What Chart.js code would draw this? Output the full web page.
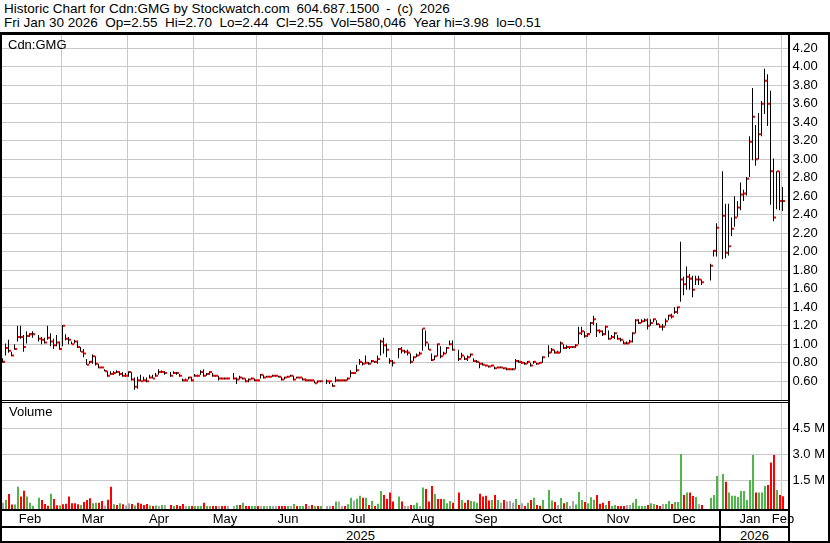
<!DOCTYPE html>
<html><head><meta charset="utf-8">
<script src="https://cdn.jsdelivr.net/npm/chart.js@4.4.1/dist/chart.umd.min.js"></script>
<style>
html,body{margin:0;padding:0;background:#fff;}
#wrap{position:relative;width:830px;height:543px;overflow:hidden;background:#fff;font-family:"Liberation Sans",Arial,sans-serif;color:#000;}
.t{position:absolute;font-size:13px;white-space:pre;line-height:15px;}
.h{font-size:13.5px;}
.ws{word-spacing:3px;}
.r{position:absolute;background:#000;}
canvas{position:absolute;left:0;}
</style></head><body><div id="wrap">
<div class="t h" style="left:4px;top:1px">Historic Chart for Cdn:GMG by Stockwatch.com<span class="ws"> 604.687.1500 - (c) 2026</span></div>
<div class="t h" style="left:4px;top:15px">Fri Jan 30 2026  Op=2.55  Hi=2.70  Lo=2.44  Cl=2.55  Vol=580,046  Year hi=3.98  lo=0.51</div>
<canvas id="cp" width="830" height="365" style="top:35px"></canvas>
<canvas id="cv" width="830" height="125" style="top:403px"></canvas>
<div class="t" style="left:8px;top:37px">Cdn:GMG</div>
<div class="t" style="left:9px;top:404px">Volume</div>
<div class="t" style="left:2px;width:717px;top:528px;text-align:center">2025</div>
<div class="t" style="left:721px;width:67px;top:528px;text-align:center">2026</div>
<div class="r" style="left:0;top:32px;width:830px;height:3px"></div>
<div class="r" style="left:0;top:32px;width:2px;height:511px"></div>
<div class="r" style="left:788px;top:32px;width:2px;height:511px"></div>
<div class="r" style="left:828px;top:32px;width:2px;height:511px"></div>
<div class="r" style="left:0;top:400px;width:790px;height:1px"></div>
<div class="r" style="left:0;top:402px;width:790px;height:1px"></div>
<div class="r" style="left:0;top:509px;width:790px;height:2px"></div>
<div class="r" style="left:0;top:526px;width:790px;height:2px"></div>
<div class="r" style="left:0;top:541px;width:830px;height:2px"></div>
<div class="r" style="left:719px;top:511px;width:2px;height:30px"></div>
</div>
<script>
// ---- categories: weekday slots from Jan 31 2025 to Feb 2 2026 ----
const firstDay = '2025-01-31';
const lastDay = '2026-02-02';
const monthNames = ['Feb','Mar','Apr','May','Jun','Jul','Aug','Sep','Oct','Nov','Dec','Jan','Feb'];
const priceTicks = [0.6,0.8,1.0,1.2,1.4,1.6,1.8,2.0,2.2,2.4,2.6,2.8,3.0,3.2,3.4,3.6,3.8,4.0,4.2];
const volTicks = [1500000, 3000000, 4500000];

// ---- price bars (per weekday slot, null = no trading) ----
const hi = [
.85,1.01,1.05,.92,1.00,1.20,1.20,1.10,1.14,1.12,
1.14,null,1.10,1.08,1.07,1.20,1.12,1.06,1.10,1.03,
1.21,1.11,1.08,1.03,1.05,1.04,.97,.95,.84,.82,
.89,.87,.79,.76,.73,.71,.71,.71,.72,.71,
.70,.69,.71,.70,.64,.65,.67,.65,.64,.67,
.67,.69,.73,.72,.71,null,.70,.71,.70,.68,
.63,.63,.65,.65,.68,.67,.72,.73,.69,.71,
.69,.67,.66,.64,.64,.64,null,.69,.64,.66,
.64,.63,.63,.64,.63,.62,.68,.67,.66,.66,
.67,.67,.66,.65,.65,.66,.67,.66,.65,.65,
.64,.63,.62,.62,.61,.61,.61,null,.62,.61,
.58,.65,.62,.62,.62,.64,.72,.70,.78,.84,
.81,.88,.81,.83,.82,.88,1.05,1.07,1.01,.85,
.83,null,.96,.97,.94,.94,.90,.87,.90,.92,
1.17,1.15,1.01,.90,.88,1.01,.98,.92,.97,1.04,
1.04,null,.94,.91,.87,.88,.90,.85,.83,.81,
.80,.78,.77,.78,.76,.76,.76,.75,.75,.74,
.74,.84,.83,.82,.81,.82,.80,.82,.80,.81,
.87,null,.99,.96,.94,.93,1.03,1.00,.99,.98,
.98,1.00,1.19,1.19,1.14,1.12,1.24,1.31,1.23,1.16,
1.15,1.20,1.15,1.10,1.13,1.10,1.07,1.04,1.03,1.05,
1.13,1.27,1.27,1.27,1.28,1.28,1.27,1.28,1.26,1.22,
1.22,1.28,1.32,1.33,1.40,1.41,2.11,1.73,1.84,1.76,
1.74,1.74,1.74,1.70,null,null,1.87,2.02,2.31,null,
2.87,2.52,2.52,2.37,2.60,2.55,2.75,2.67,2.81,3.25,
3.77,3.37,3.50,3.63,3.98,3.92,3.74,3.01,2.87,2.87,
2.70,null];
const lo = [
.80,.88,.91,.87,.94,1.03,1.06,.92,1.01,1.08,
1.07,null,1.03,1.00,1.01,1.05,.98,.95,.98,.94,
.98,1.04,1.00,1.00,1.01,.96,.92,.86,.78,.79,
.79,.77,.74,.74,.71,.65,.67,.67,.69,.66,
.65,.65,.65,.61,.51,.52,.60,.60,.59,.63,
.63,.65,.67,.69,.67,null,.65,.68,.67,.65,
.60,.60,.62,.60,.65,.65,.67,.65,.66,.67,
.65,.65,.61,.62,.62,.62,null,.62,.57,.62,
.62,.59,.59,.62,.60,.60,.63,.63,.64,.64,
.65,.65,.64,.61,.62,.64,.65,.61,.63,.63,
.61,.60,.60,.60,.58,.58,.59,null,.57,.57,
.54,.59,.60,.60,.60,.61,.64,.68,.70,.78,
.77,.79,.78,.80,.80,.79,.88,.90,.86,.79,
.76,null,.85,.90,.90,.88,.79,.82,.86,.88,
.93,.98,.94,.82,.83,.87,.85,.88,.90,.99,
.93,null,.82,.85,.83,.82,.86,.81,.80,.74,
.77,.76,.75,.76,.73,.74,.74,.73,.72,.72,
.72,.73,.80,.79,.78,.79,.76,.79,.78,.79,
.80,null,.86,.91,.90,.90,.91,.95,.95,.95,
.96,.96,1.00,1.10,1.07,1.08,1.12,1.21,1.08,1.12,
1.09,1.10,1.05,1.06,1.06,1.05,1.03,1.00,1.00,1.01,
1.02,1.12,1.22,1.23,1.24,1.16,1.20,1.24,1.21,1.18,
1.15,1.20,1.26,1.28,1.33,1.33,1.46,1.53,1.59,1.59,
1.51,1.64,1.64,1.64,null,null,1.69,1.95,1.95,null,
1.92,1.93,1.96,2.17,2.27,2.38,2.45,2.55,2.61,2.81,
2.99,2.93,3.00,3.25,3.49,3.36,2.51,2.33,2.46,2.45,
2.44,null];
const cl = [
.81,.96,.93,.88,.95,1.08,1.08,.97,1.09,1.11,
1.11,null,1.06,1.05,1.02,1.07,1.03,.99,1.02,.95,
1.20,1.06,1.05,1.00,1.03,.97,.92,.90,.78,.81,
.87,.79,.75,.75,.71,.66,.68,.69,.70,.68,
.66,.66,.70,.62,.54,.61,.60,.61,.60,.64,
.63,.66,.70,.70,.69,null,.66,.69,.69,.66,
.61,.61,.64,.61,.66,.66,.70,.66,.68,.70,
.66,.66,.63,.63,.63,.63,null,.63,.62,.64,
.63,.60,.62,.63,.61,.61,.67,.64,.65,.65,
.66,.66,.65,.62,.64,.65,.66,.62,.64,.64,
.62,.61,.61,.61,.58,.60,.60,null,.60,.60,
.55,.61,.61,.61,.61,.63,.69,.69,.72,.81,
.79,.80,.79,.82,.81,.84,1.03,.99,.94,.82,
.80,null,.95,.93,.92,.91,.81,.86,.88,.90,
1.17,1.02,.94,.83,.87,1.00,.87,.90,.96,1.00,
.94,null,.84,.88,.84,.86,.89,.82,.81,.79,
.78,.77,.76,.77,.74,.75,.75,.74,.73,.73,
.73,.82,.81,.80,.79,.81,.77,.81,.79,.80,
.86,null,.91,.94,.91,.91,1.01,.96,.97,.97,
.97,.99,1.12,1.14,1.09,1.11,1.23,1.27,1.15,1.14,
1.11,1.19,1.06,1.08,1.12,1.06,1.05,1.01,1.01,1.03,
1.12,1.26,1.23,1.25,1.26,1.20,1.23,1.27,1.22,1.19,
1.19,1.25,1.31,1.30,1.35,1.40,1.70,1.65,1.73,1.71,
1.59,1.70,1.70,1.67,null,null,1.85,2.01,2.26,null,
2.39,1.99,2.06,2.25,2.37,2.48,2.62,2.63,2.79,3.19,
3.46,3.00,3.27,3.60,3.85,3.60,2.87,2.37,2.87,2.55,
2.55,null];

// ---- volume (thousands of shares) and bar colour code: u=up, d=down, n=unchanged ----
const volK = [
210,370,710,100,100,1130,560,900,560,200,
30,null,500,370,130,30,730,420,60,40,
120,150,560,170,170,120,80,250,370,460,
170,210,210,310,50,380,1130,120,80,170,
120,50,170,130,50,210,150,80,130,50,
20,50,20,80,80,null,80,20,80,20,
130,20,20,15,20,15,20,210,20,15,
20,20,15,15,20,20,null,20,80,80,
210,15,20,20,20,20,20,20,20,20,
20,20,20,20,20,20,20,130,20,20,
20,130,20,80,10,20,20,null,15,15,
15,270,270,20,20,115,500,330,440,615,
500,500,80,310,20,150,885,650,420,790,
270,null,560,270,20,20,80,80,210,20,
1080,1000,270,1170,710,420,420,420,170,310,
210,null,790,365,210,365,310,270,210,730,
560,615,330,365,650,365,210,365,270,310,
210,420,80,170,20,210,365,500,80,30,
365,null,940,330,250,80,480,170,250,20,
310,100,830,365,250,170,520,365,650,150,
210,80,310,20,80,20,20,20,80,80,
210,420,30,20,15,80,170,130,80,20,
130,130,310,130,250,250,3020,650,790,790,
600,540,130,80,null,null,500,650,1750,null,
1870,1420,790,615,615,540,885,885,365,1520,
2960,790,790,790,1170,1230,2520,2960,940,650,
580,null];
const volDir = [
"nudduudduu","u.uddduddu","dddddduddd","uuddnddudu","dnnduddddu",
"dunun.dudd","dnuduuuduu","ddnddn.nud","udduudnunu","nndddunudu",
"udndudu.nn","dunnduunuu","dududuuddd","d.udnnduun","udddudduuu",
"d.dudduuud","dddudundnn","nudndududd","u.uudnudun","nuuuduuudd",
"duduudddnn","uuuuuduudd","nuuduuudud","dund..uuu.","uduuuuuuuu",
"uduuudddud","d."].join('');

// ---- build categories / month boundaries ----
const dates = [];
for (let d = new Date(firstDay + 'T00:00:00Z'); d <= new Date(lastDay + 'T00:00:00Z'); d.setUTCDate(d.getUTCDate() + 1)) {
  const wd = d.getUTCDay();
  if (wd === 0 || wd === 6) continue;
  dates.push(d.toISOString().slice(0, 10));
}
const bounds = [];
for (let i = 1; i < dates.length; i++) {
  if (dates[i].slice(5, 7) !== dates[i - 1].slice(5, 7)) {
    const wd1 = new Date(dates[i].slice(0, 8) + '01T00:00:00Z').getUTCDay();
    const b = (wd1 === 0 || wd1 === 6) ? i - 1 : i;
    if (b > 0) bounds.push(b);
  }
}
const boundSet = new Set(bounds);
const edges = [0, ...bounds, dates.length];
const labelAt = {};
for (let j = 0; j < edges.length - 1; j++) {
  labelAt[Math.floor((edges[j] + edges[j + 1] - 1) / 2)] = monthNames[j];
}

const GRID = '#c8c8c8';
const CLEAR = 'rgba(0,0,0,0)';
const FONT = {family: "'Liberation Sans', Arial, sans-serif", size: 13};
const colorOf = {u: '#4db848', d: '#ff0000', n: '#a8a8a8'};

const hlData = hi.map((h, i) => h == null ? null : [lo[i], h]);
const clData = cl.map(c => c == null ? null : [c - 0.011, c + 0.011]);
const volData = volK.map(v => v == null ? null : v * 1000);
const volColors = volDir.split('').map(ch => colorOf[ch] || CLEAR);

const xGrid = {offset: true, drawTicks: false, lineWidth: 1, color: c => boundSet.has(c.index) ? GRID : CLEAR};

// price panel: 1.00 at canvas y 309.3, 92.5 px per unit, plot 365 px tall
const P_MAX = 1 + 309.3 / 92.5;
const P_MIN = 1 - (365 - 309.3) / 92.5;
new Chart(document.getElementById('cp'), {
  type: 'bar',
  data: {labels: dates, datasets: [
    {data: hlData, backgroundColor: '#000000', barThickness: 1, borderWidth: 0, inflateAmount: 0},
    {data: clData, backgroundColor: '#ff0000', barThickness: 2, borderWidth: 0, inflateAmount: 0}
  ]},
  options: {
    responsive: false, animation: false, events: [],
    layout: {padding: {left: 1.5, right: 0, top: 0, bottom: 0}},
    plugins: {legend: {display: false}, tooltip: {enabled: false}},
    scales: {
      x: {type: 'category', offset: true, grid: xGrid, border: {display: false},
          ticks: {display: false},
          afterFit: s => { s.height = 0; s.paddingLeft = 0; s.paddingRight = 0; }},
      y: {position: 'right', min: P_MIN, max: P_MAX,
          grid: {drawTicks: false, color: GRID},
          border: {display: false},
          afterBuildTicks: s => { s.ticks = priceTicks.map(v => ({value: v})); },
          ticks: {padding: 5, color: '#000', font: FONT, callback: v => Number(v).toFixed(2)},
          afterFit: s => { s.width = 42.5; s.paddingTop = 0; s.paddingBottom = 0; }}
    }
  }
});

// volume panel: zero at canvas y 103.3, 17.333 px per million, plot 106 px tall
const V_MAX = 103.3 / 17.333 * 1e6;
const V_MIN = -(106 - 103.3) / 17.333 * 1e6;
new Chart(document.getElementById('cv'), {
  type: 'bar',
  data: {labels: dates, datasets: [
    {data: volData, backgroundColor: volColors, barThickness: 2, borderWidth: 0, inflateAmount: 0, base: V_MIN}
  ]},
  options: {
    responsive: false, animation: false, events: [],
    layout: {padding: {left: 1.5, right: 0, top: 0, bottom: 0}},
    plugins: {legend: {display: false}, tooltip: {enabled: false}},
    scales: {
      x: {type: 'category', offset: true, grid: xGrid, border: {display: false},
          ticks: {autoSkip: false, maxRotation: 0, minRotation: 0, padding: 3, color: '#000', font: FONT,
                  callback: (v, i) => labelAt[i] || ''},
          afterFit: s => { s.height = 19; s.paddingLeft = 0; s.paddingRight = 0; }},
      y: {position: 'right', min: V_MIN, max: V_MAX,
          grid: {drawTicks: false, color: GRID},
          border: {display: false},
          afterBuildTicks: s => { s.ticks = volTicks.map(v => ({value: v})); },
          ticks: {padding: 5, color: '#000', font: FONT, callback: v => (v / 1e6).toFixed(1) + ' M'},
          afterFit: s => { s.width = 42.5; s.paddingTop = 0; s.paddingBottom = 0; }}
    }
  }
});
</script>
</body></html>
